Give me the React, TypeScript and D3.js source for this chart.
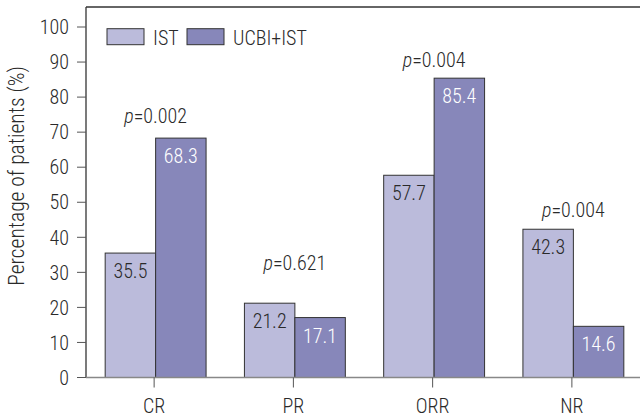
import React from "react";
import * as d3 from "d3";

const categories = ["CR", "PR", "ORR", "NR"];
const seriesNames = ["IST", "UCBI+IST"];
const istValues = [35.5, 21.2, 57.7, 42.3];
const ucbiValues = [68.3, 17.1, 85.4, 14.6];
const pValues = ["0.002", "0.621", "0.004", "0.004"];
const pLabelAt = [72.6, 30.7, 88.7, 45.8];
const yTicks = [0, 10, 20, 30, 40, 50, 60, 70, 80, 90, 100];

const W = 640;
const H = 418;
const FONT = "'Roboto Condensed', 'Liberation Sans Narrow', 'DejaVu Sans Condensed', sans-serif";
const COLORS = ["#bbbbdb", "#8787ba"];
const FS = 20;
const TXT = "#2a2a2a";

export default function App() {
  const left = 86;
  const right = 643;
  const top = 7;
  const bottom = 377.5;

  const x = d3.scaleBand<string>().domain(categories).range([left, right]).paddingInner(0).paddingOuter(0);
  const inner = d3.scaleBand<string>().domain(seriesNames).range([0, x.bandwidth()]).paddingInner(0).paddingOuter(0.38);
  const y = d3.scaleLinear().domain([0, 100]).range([bottom, 27]);

  const series = [istValues, ucbiValues];

  return (
    <svg width={W} height={H} style={{ position: "absolute", left: 0, top: 0, background: "#fff" }} fontFamily={FONT} fontWeight={300}>
      <line x1={left} x2={W} y1={top} y2={top} stroke="#333" strokeWidth={1.3} />
      {categories.map((c, i) => (
        <g key={c}>
          {series.map((vals, s) => {
            const bx = (x(c) as number) + (inner(seriesNames[s]) as number);
            const bw = inner.bandwidth();
            const v = vals[i];
            return (
              <g key={s}>
                <rect x={bx} y={y(v)} width={bw} height={bottom - y(v)} fill={COLORS[s]} stroke="#333" strokeWidth={1} />
                <text x={bx + bw / 2} y={y(v) + 25} textAnchor="middle" fontSize={FS} fill={s === 0 ? TXT : "#fff"}>
                  {v.toFixed(1)}
                </text>
              </g>
            );
          })}
          <text x={(x(c) as number) + x.bandwidth() / 2} y={y(pLabelAt[i])} textAnchor="middle" fontSize={FS} fill={TXT}>
            <tspan fontStyle="italic">p</tspan>
            <tspan>={pValues[i]}</tspan>
          </text>
        </g>
      ))}
      <line x1={left} x2={left} y1={top} y2={bottom} stroke="#333" strokeWidth={1.3} />
      {yTicks.map((t) => (
        <g key={t}>
          <line x1={left - 9} x2={left} y1={y(t)} y2={y(t)} stroke="#555" strokeWidth={1} />
          <text x={69} y={y(t)} dy="0.36em" textAnchor="end" fontSize={FS} fill={TXT}>
            {t}
          </text>
        </g>
      ))}
      <line x1={left} x2={W} y1={bottom} y2={bottom} stroke="#888" strokeWidth={1.3} />
      {categories.map((c) => {
        const cx = (x(c) as number) + x.bandwidth() / 2 - 1.5;
        return (
          <g key={c}>
            <line x1={cx} x2={cx} y1={bottom} y2={bottom + 10} stroke="#555" strokeWidth={1} />
            <text x={cx} y={413} textAnchor="middle" fontSize={FS} fill={TXT}>
              {c}
            </text>
          </g>
        );
      })}
      <text transform={`translate(24,176) rotate(-90)`} textAnchor="middle" fontSize={21.5} fill={TXT}>
        Percentage of patients (%)
      </text>
      {seriesNames.map((n, s) => {
        const lx = s === 0 ? 107 : 187;
        return (
          <g key={n}>
            <rect x={lx} y={28.7} width={37} height={16} fill={COLORS[s]} stroke="#333" strokeWidth={1} />
            <text x={lx + 46} y={44.5} fontSize={FS} fill={TXT}>
              {n}
            </text>
          </g>
        );
      })}
    </svg>
  );
}
